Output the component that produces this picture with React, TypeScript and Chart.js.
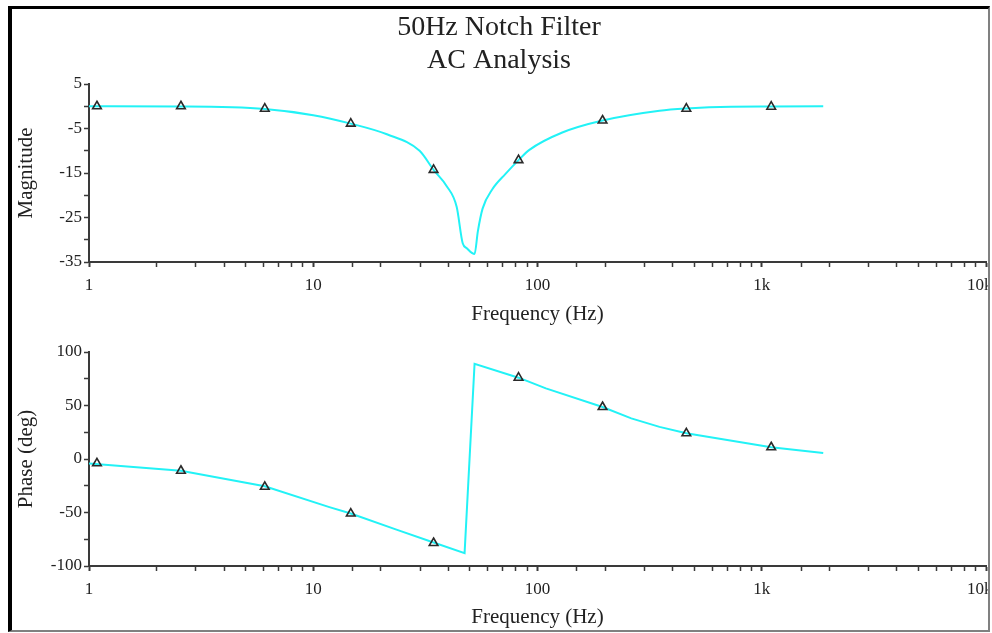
import React, { useEffect, useRef } from 'react';
import { Chart, registerables } from 'chart.js';

Chart.register(...registerables);

// ---- data ----
const titleLines = ['50Hz Notch Filter', 'AC Analysis'];
const xTitle = 'Frequency (Hz)';
const magTitle = 'Magnitude';
const phaseTitle = 'Phase (deg)';

const decadeTicks = [1, 10, 100, 1000, 10000];
const decadeLabels = ['1', '10', '100', '1k', '10k   '];

// magnitude trace (dB)
const magFreq = [1, 2.57, 6.08, 10, 14.7, 21.3, 29.8, 34.4, 39.3, 43.6, 46.4, 48.4, 52.4, 54.2, 56.9, 63, 72, 82.3, 92, 129, 195, 350, 461, 730, 1102, 1880];
const magDb = [0, -0.05, -0.6, -2.0, -3.9, -6.3, -10, -14.3, -17.9, -22.6, -30.8, -31.9, -33.2, -28.1, -23, -18.6, -15.2, -12.1, -9.8, -5.9, -3.2, -1.0, -0.5, -0.1, -0.05, 0];

// phase trace (deg)
const phaseFreq = [1, 2.57, 6.08, 11.8, 14.7, 23.5, 34.4, 47.3, 52.4, 82.3, 109, 195, 262, 350, 461, 1102, 1880];
const phaseDeg = [-4.3, -11, -25.5, -45, -51, -66, -78, -88, 89, 76, 66, 48.6, 38, 30, 24, 11, 5.6];

// triangle markers
const markerFreq = [1.085, 2.57, 6.08, 14.7, 34.4, 82.3, 195, 461, 1102];
const markerMag = [0, 0, -0.55, -3.9, -14.3, -12.1, -3.2, -0.55, -0.1];
const markerPhase = [-4, -11, -26, -51, -78.5, 76, 48.6, 24, 11];

const magRange = { min: -35, max: 5, step: 5, labelEvery: 10 };
const phaseRange = { min: -100, max: 100, step: 25, labelEvery: 50 };

// ---- styling ----
const FONT = "'Liberation Serif', 'Times New Roman', serif";
const TEXT = '#222';
const AXIS = '#3a3a3a';
const TRACE = '#22f2f6';

function isDecade(v: number) {
  const l = Math.log10(v);
  return Math.abs(l - Math.round(l)) < 1e-9;
}

function makeConfig(opts: {
  freq: number[]; vals: number[]; mFreq: number[]; mVals: number[];
  range: { min: number; max: number; step: number; labelEvery: number };
  yTitle: string; withTitle: boolean; xScaleHeight: number; xTitlePadBottom: number;
  smooth: boolean; padTop: number;
}): any {
  const { range } = opts;
  return {
    type: 'line',
    data: {
      datasets: [
        {
          data: opts.mFreq.map((f, i) => ({ x: f, y: opts.mVals[i] })),
          showLine: false,
          pointStyle: 'triangle',
          pointRadius: 5,
          pointBorderWidth: 1.6,
          pointBorderColor: '#2a2a2a',
          pointBackgroundColor: 'rgba(0,0,0,0)',
        },
        {
          data: opts.freq.map((f, i) => ({ x: f, y: opts.vals[i] })),
          borderColor: TRACE,
          borderWidth: 2,
          pointRadius: 0,
          fill: false,
          cubicInterpolationMode: opts.smooth ? 'monotone' : 'default',
          tension: 0,
        },
      ],
    },
    options: {
      responsive: false,
      animation: false,
      layout: { padding: { left: 0, right: 30, top: opts.padTop, bottom: 0 } },
      plugins: {
        legend: { display: false },
        tooltip: { enabled: false },
        title: opts.withTitle
          ? {
              display: true,
              text: titleLines,
              color: TEXT,
              font: { family: FONT, size: 28, weight: 'normal', lineHeight: '33px' },
              padding: { top: 2, bottom: 7 },
            }
          : { display: false },
      },
      scales: {
        x: {
          type: 'logarithmic',
          position: 'bottom',
          min: 1,
          max: 10000,
          border: { display: true, color: AXIS, width: 2 },
          grid: {
            drawOnChartArea: false,
            drawTicks: true,
            tickLength: 5,
            tickColor: AXIS,
            tickWidth: (c: any) => (c.tick && isDecade(c.tick.value) ? 2 : 1.5),
          },
          ticks: {
            autoSkip: false,
            maxRotation: 0,
            color: TEXT,
            padding: 8,
            font: { family: FONT, size: 17, lineHeight: 1.2 },
            callback: (v: any) => {
              const n = Number(v);
              const idx = decadeTicks.findIndex((d) => Math.abs(d - n) < 1e-6 * d);
              return idx >= 0 ? decadeLabels[idx] : '';
            },
          },
          title: {
            display: true,
            text: xTitle,
            color: TEXT,
            font: { family: FONT, size: 21, lineHeight: 1 },
            padding: { top: 0, bottom: opts.xTitlePadBottom },
          },
          afterFit: (s: any) => {
            s.height = opts.xScaleHeight;
          },
        },
        y: {
          type: 'linear',
          position: 'left',
          min: range.min,
          max: range.max,
          border: { display: true, color: AXIS, width: 2 },
          grid: {
            drawOnChartArea: false,
            drawTicks: true,
            tickLength: 5,
            tickColor: AXIS,
            tickWidth: 1.5,
          },
          ticks: {
            stepSize: range.step,
            autoSkip: false,
            color: TEXT,
            padding: 2,
            font: { family: FONT, size: 17, lineHeight: 1.2 },
            callback: (v: any) => {
              const n = Number(v);
              return Math.abs((n - range.min) % range.labelEvery) < 1e-9 ? String(n) : '';
            },
          },
          title: {
            display: true,
            text: opts.yTitle,
            color: TEXT,
            font: { family: FONT, size: 21, lineHeight: 1 },
            padding: { top: 4, bottom: 0 },
          },
          afterFit: (s: any) => {
            s.width = 77;
          },
        },
      },
    },
  };
}

export default function App() {
  const topRef = useRef<HTMLCanvasElement | null>(null);
  const botRef = useRef<HTMLCanvasElement | null>(null);

  useEffect(() => {
    if (!topRef.current || !botRef.current) return;
    const top = new Chart(
      topRef.current,
      makeConfig({
        freq: magFreq, vals: magDb, mFreq: markerFreq, mVals: markerMag,
        range: magRange, yTitle: magTitle, withTitle: true,
        xScaleHeight: 68, xTitlePadBottom: 5, smooth: true, padTop: 0,
      })
    );
    const bot = new Chart(
      botRef.current,
      makeConfig({
        freq: phaseFreq, vals: phaseDeg, mFreq: markerFreq, mVals: markerPhase,
        range: phaseRange, yTitle: phaseTitle, withTitle: false,
        xScaleHeight: 64, xTitlePadBottom: 2, smooth: false, padTop: 22,
      })
    );
    return () => {
      top.destroy();
      bot.destroy();
    };
  }, []);

  return (
    <div style={{ position: 'fixed', left: 0, top: 0, width: 992, height: 633, background: '#fff' }}>
      <div
        style={{
          position: 'absolute', left: 8, top: 6, width: 982, height: 626, boxSizing: 'border-box',
          borderTop: '3px solid #000', borderLeft: '4px solid #000',
          borderRight: '2px solid #808080', borderBottom: '2px solid #808080',
          overflow: 'hidden', background: '#fff',
        }}
      >
        <canvas ref={topRef} width={1004} height={321} style={{ position: 'absolute', left: 0, top: 0, width: 1004, height: 321 }} />
        <canvas ref={botRef} width={1004} height={300} style={{ position: 'absolute', left: 0, top: 321, width: 1004, height: 300 }} />
      </div>
    </div>
  );
}
